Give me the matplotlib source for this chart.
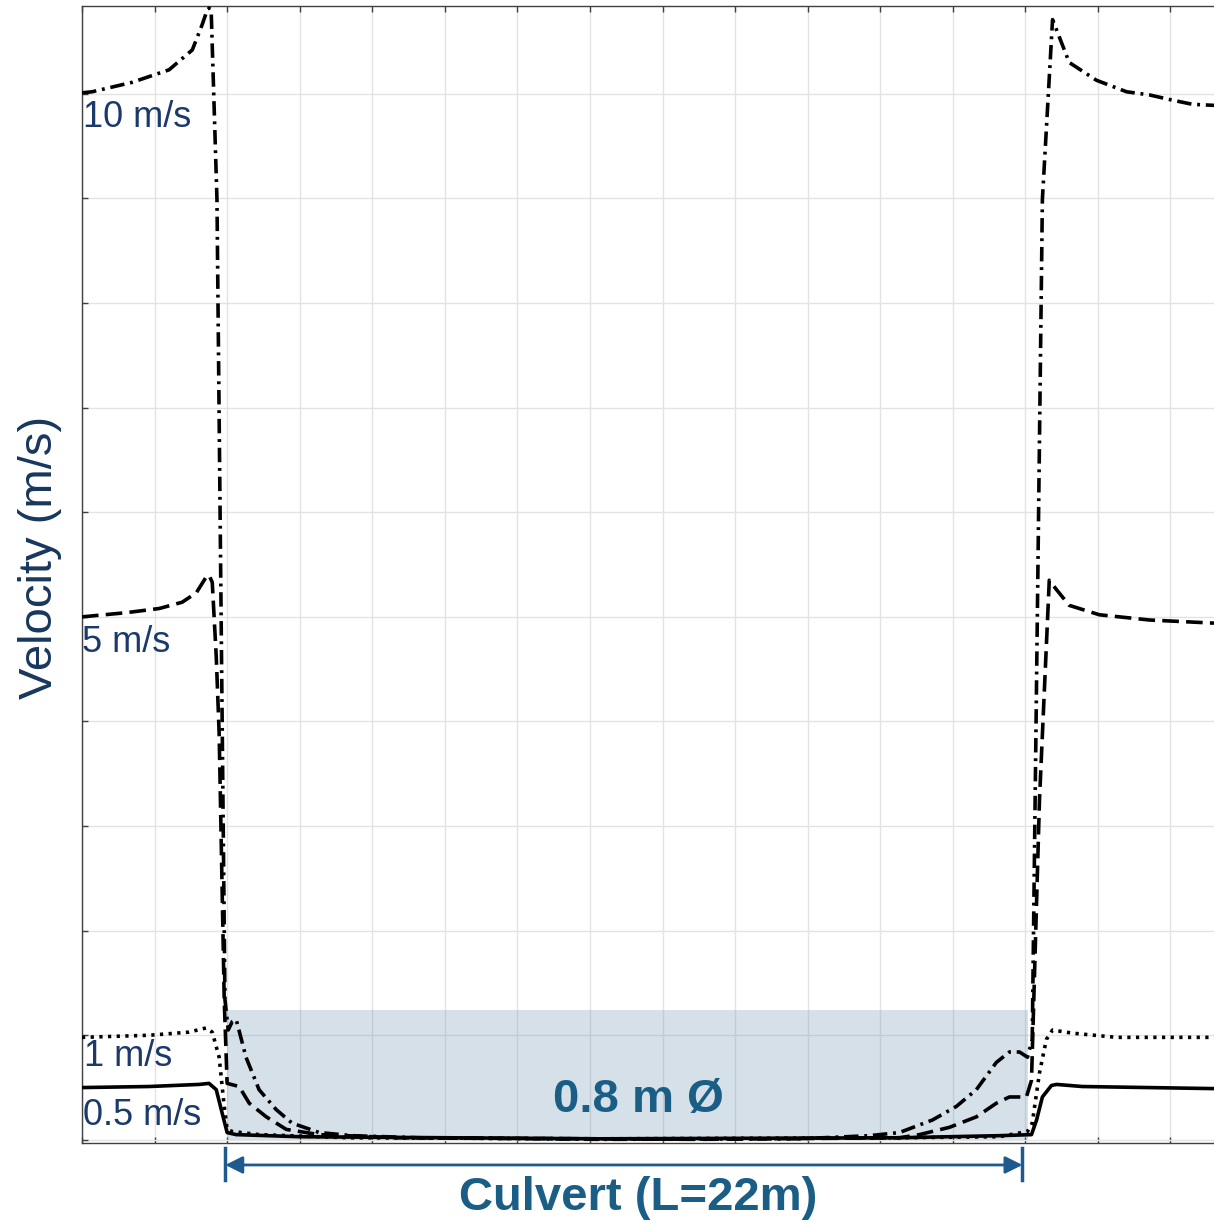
import matplotlib
matplotlib.use("Agg")
import matplotlib.pyplot as plt
import numpy as np

plt.rcParams['font.family'] = ['Liberation Sans', 'DejaVu Sans']

# ---- data (distance in m relative to culvert inlet, velocity in m/s) ----
x_10 = [-4.0, -3.72, -2.62, -1.60, -0.96, -0.69, -0.58, -0.50, -0.44, -0.28, -0.06, 0.03, 0.14, 0.25, 0.52,
        0.88, 1.35, 1.79, 2.54, 3.45, 5.29, 10.26, 15.77, 17.70, 18.53, 19.44, 20.10, 20.65, 21.20, 21.56,
        21.84, 22.06, 22.19, 22.47, 22.75, 23.21, 23.96, 24.79, 25.42, 26.05, 26.61, 27.2]
v_10 = [10.01, 10.02, 10.11, 10.23, 10.42, 10.66, 10.77, 10.82, 10.80, 8.99, 1.34, 1.05, 1.13, 1.15, 0.79,
        0.48, 0.29, 0.16, 0.07, 0.04, 0.02, 0.005, 0.01, 0.04, 0.07, 0.19, 0.32, 0.48, 0.74, 0.84,
        0.84, 0.79, 0.96, 8.99, 10.71, 10.30, 10.13, 10.02, 9.99, 9.94, 9.90, 9.89]

x_5 = [-4.0, -2.78, -1.87, -1.24, -0.85, -0.58, -0.50, -0.41, -0.30, -0.22, -0.08, 0.0, 0.33, 0.61, 1.08,
       1.63, 2.54, 4.74, 13.0, 18.53, 19.08, 19.91, 20.65, 21.20, 21.56, 22.03, 22.17, 22.39, 22.66,
       22.86, 23.21, 24.04, 25.42, 27.2]
v_5 = [5.00, 5.04, 5.08, 5.14, 5.23, 5.38, 5.40, 5.33, 4.62, 3.89, 1.34, 0.54, 0.51, 0.35, 0.22,
       0.10, 0.05, 0.02, 0.005, 0.02, 0.05, 0.12, 0.22, 0.35, 0.41, 0.41, 0.57, 3.25, 5.35,
       5.26, 5.11, 5.02, 4.97, 4.94]

x_1 = [-4.0, -2.15, -1.05, -0.58, -0.41, -0.22, -0.08, 0.0, 0.14, 0.88, 3.36, 10.26, 18.53, 21.28, 22.06,
       22.19, 22.39, 22.58, 22.75, 23.30, 24.51, 27.2]
v_1 = [0.98, 1.00, 1.03, 1.07, 1.03, 0.79, 0.32, 0.10, 0.08, 0.05, 0.02, 0.01, 0.02, 0.03, 0.08,
       0.16, 0.64, 0.96, 1.05, 1.02, 0.98, 0.98]

x_05 = [-4.0, -2.15, -0.77, -0.50, -0.30, -0.14, 0.0, 0.25, 1.99, 10.26, 18.53, 21.28, 22.17, 22.31, 22.47,
        22.72, 22.86, 23.57, 27.2]
v_05 = [0.50, 0.51, 0.53, 0.54, 0.48, 0.26, 0.07, 0.05, 0.03, 0.01, 0.02, 0.04, 0.05, 0.19, 0.41,
        0.52, 0.53, 0.51, 0.49]

labels = ["10 m/s", "5 m/s", "1 m/s", "0.5 m/s"]
label_x = [-3.97, -4.0, -3.94, -3.97]
label_y = [9.68, 4.66, 0.71, 0.14]

culvert_start, culvert_end = 0.0, 22.08
culvert_height = 1.24

# ---- figure ----
fig = plt.figure(figsize=(12.14, 12.21), dpi=100)
ax = fig.add_axes([82/1214, 1 - 1143/1221, 1 - 82/1214, (1143 - 6)/1221])
ax.set_xlim(-4.0, 27.2)
ax.set_ylim(-0.03, 10.84)

ax.set_xticks(np.arange(-4, 28, 2))
ax.set_yticks(np.arange(0, 11, 1))
ax.set_xticklabels([])
ax.set_yticklabels([])
ax.tick_params(direction='in', length=4, width=1, color='#404040',
               top=True, bottom=True, left=True, right=False)
ax.grid(True, color='#e3e3e3', lw=1)
ax.set_axisbelow(True)
for s in ['left', 'bottom', 'top']:
    ax.spines[s].set_color('#404040')
    ax.spines[s].set_linewidth(1)
ax.spines['right'].set_visible(False)

# culvert box
ax.fill_between([culvert_start, culvert_end], 0, culvert_height, color='#5f87ab', alpha=0.25,
                lw=0, zorder=1)

lw = 2.6
ax.plot(x_10, v_10, color='black', lw=lw, dashes=(4.0, 1.6, 0.8, 1.6), zorder=3)
ax.plot(x_5, v_5, color='black', lw=lw, dashes=(4.6, 2.0), zorder=3)
ax.plot(x_1, v_1, color='black', lw=lw, dashes=(0.9, 1.5), zorder=3)
ax.plot(x_05, v_05, color='black', lw=lw, zorder=3)

for t, lx, ly in zip(labels, label_x, label_y):
    ax.text(lx, ly, t, color='#1b3a6b', fontsize=26, ha='left', va='baseline', zorder=4)

ax.text(11.33, 0.27, "0.8 m Ø", color='#1a5e85', fontsize=34, fontweight='bold',
        ha='center', va='baseline', zorder=4)

# culvert length arrow
arrow_color = '#1f5a8f'
ax.annotate('', xy=(culvert_start - 0.05, -0.24), xytext=(21.92, -0.24),
            arrowprops=dict(arrowstyle='<|-|>', color=arrow_color, lw=2, mutation_scale=26,
                            shrinkA=0, shrinkB=0),
            annotation_clip=False)
for xb in [culvert_start - 0.05, 21.92]:
    ax.plot([xb, xb], [-0.08, -0.38], color=arrow_color, lw=2.5, clip_on=False)

fig.text(638/1214, 1 - 1210/1221, "Culvert (L=22m)", color='#1a5e85', fontsize=34,
         fontweight='bold', ha='center', va='baseline')

fig.text(40/1214, 1 - 557/1221, "Velocity (m/s)", color='#17375e', fontsize=34,
         rotation=90, ha='center', va='center')

fig.savefig("out.png", dpi=100)
